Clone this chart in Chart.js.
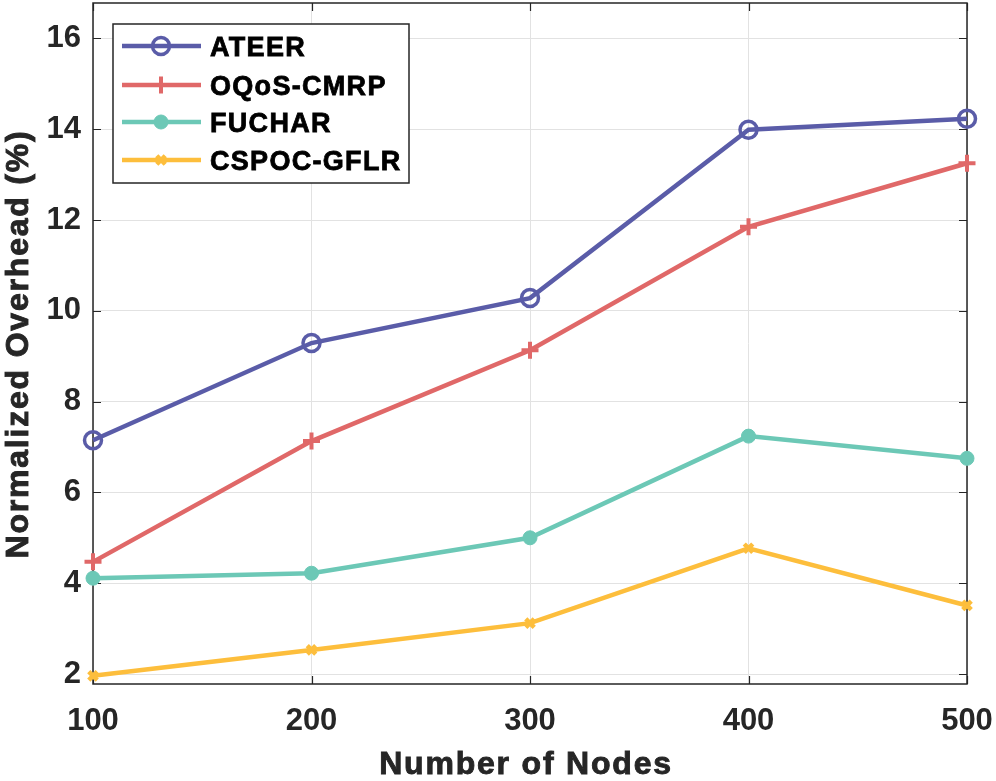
<!DOCTYPE html>
<html>
<head>
<meta charset="utf-8">
<script src="https://cdn.jsdelivr.net/npm/chart.js@4.4.1/dist/chart.umd.min.js"></script>
<style>
html,body{margin:0;padding:0;background:#fff;}
#wrap{width:996px;height:781px;}
</style>
</head>
<body>
<div id="wrap"><canvas id="c" width="996" height="781"></canvas></div>
<script>
const nodes = [100, 200, 300, 400, 500];
const ateer = [7.15, 9.29, 10.28, 13.99, 14.23];
const oqos = [4.47, 7.13, 9.13, 11.85, 13.25];
const fuchar = [4.11, 4.22, 5.00, 7.24, 6.75];
const cspoc = [1.96, 2.53, 3.12, 4.77, 3.51];
const xTicks = [100, 200, 300, 400, 500];
const yTicks = [2, 4, 6, 8, 10, 12, 14, 16];
const seriesNames = ['ATEER', 'OQoS-CMRP', 'FUCHAR', 'CSPOC-GFLR'];
const xTitle = 'Number of Nodes';
const yTitle = 'Normalized Overhead (%)';

const colors = ['#5a5ca8', '#e06868', '#6cc8b6', '#fdbe3c'];
const FONT = '"Liberation Sans", Arial, Helvetica, sans-serif';
const TXT = '#262626';

function pts(arr){ return nodes.map((n,i)=>({x:n, y:arr[i]})); }

const styles = [
  {pointStyle:'circle', pointRadius:8.5, pointBorderWidth:3.5, pointBackgroundColor:'rgba(0,0,0,0)'},
  {pointStyle:'cross', pointRadius:8.5, pointBorderWidth:4, pointBackgroundColor:colors[1]},
  {pointStyle:'circle', pointRadius:7, pointBorderWidth:1, pointBackgroundColor:colors[2]},
  {pointStyle:'crossRot', pointRadius:6, pointBorderWidth:4.5, pointBackgroundColor:colors[3]}
];

const datasets = [ateer, oqos, fuchar, cspoc].map((arr,i)=>Object.assign({
  label: seriesNames[i],
  data: pts(arr),
  borderColor: colors[i],
  pointBorderColor: colors[i],
  borderWidth: 4.5,
  tension: 0,
  clip: false,
  pointHoverRadius: 8
}, styles[i]));

function boldText(ctx, txt, x, y){
  ctx.fillText(txt, x, y);
  ctx.strokeText(txt, x, y);
}

const framePlugin = {
  id:'frame',
  beforeDatasetsDraw(chart){
    const {ctx, chartArea:a, scales} = chart;
    ctx.save();
    ctx.strokeStyle = TXT;
    ctx.lineWidth = 1.2;
    const L = 8;
    ctx.beginPath();
    yTicks.forEach(v=>{
      const y = Math.round(scales.y.getPixelForValue(v))+0.5;
      ctx.moveTo(a.left, y); ctx.lineTo(a.left+L, y);
      ctx.moveTo(a.right, y); ctx.lineTo(a.right-L, y);
    });
    xTicks.forEach(v=>{
      const x = Math.round(scales.x.getPixelForValue(v))+0.5;
      ctx.moveTo(x, a.bottom); ctx.lineTo(x, a.bottom-L);
      ctx.moveTo(x, a.top); ctx.lineTo(x, a.top+L);
    });
    ctx.stroke();
    ctx.lineWidth = 1.5;
    ctx.strokeRect(a.left, a.top, a.right-a.left, a.bottom-a.top);
    ctx.restore();
  },
  afterDraw(chart){
    const {ctx, chartArea:a} = chart;
    ctx.save();
    ctx.fillStyle = TXT;
    ctx.strokeStyle = TXT;
    ctx.lineWidth = 0.9;
    ctx.font = 'bold 32px ' + FONT;
    try { ctx.letterSpacing = '1.8px'; } catch(e){}
    ctx.textAlign = 'center';
    ctx.textBaseline = 'alphabetic';
    boldText(ctx, xTitle, 526, 774);
    ctx.save();
    ctx.translate(28, 344);
    ctx.rotate(-Math.PI/2);
    boldText(ctx, yTitle, 0, 0);
    ctx.restore();
    ctx.restore();

    // legend
    ctx.save();
    const bx=113, by=24, bw=296, bh=159;
    ctx.fillStyle = '#fff';
    ctx.fillRect(bx, by, bw, bh);
    ctx.strokeStyle = TXT;
    ctx.lineWidth = 1.5;
    ctx.strokeRect(bx, by, bw, bh);
    const rows = [46, 85, 122, 160];
    chart.data.datasets.forEach((ds,i)=>{
      const y = rows[i];
      ctx.strokeStyle = ds.borderColor;
      ctx.lineWidth = 4.5;
      ctx.beginPath(); ctx.moveTo(122, y); ctx.lineTo(201, y); ctx.stroke();
      const opts = {pointStyle: ds.pointStyle, radius: ds.pointRadius, rotation:0, borderWidth: ds.pointBorderWidth};
      ctx.strokeStyle = ds.pointBorderColor;
      ctx.fillStyle = ds.pointBackgroundColor;
      ctx.lineWidth = ds.pointBorderWidth;
      Chart.helpers.drawPoint(ctx, opts, 161, y);
      ctx.fillStyle = '#000';
      ctx.strokeStyle = '#000';
      ctx.lineWidth = 0.8;
      ctx.font = 'bold 27px ' + FONT;
      try { ctx.letterSpacing = '1.3px'; } catch(e){}
      ctx.textAlign = 'left';
      ctx.textBaseline = 'alphabetic';
      boldText(ctx, ds.label, 210, y + 10);
      try { ctx.letterSpacing = '0px'; } catch(e){}
    });
    ctx.restore();
  }
};

new Chart(document.getElementById('c'), {
  type: 'line',
  data: { datasets },
  options: {
    responsive: false,
    animation: false,
    devicePixelRatio: 1,
    layout: { autoPadding: false, padding: { left: 0, right: 29, top: 3, bottom: 0 } },
    plugins: { legend: { display: false }, tooltip: { enabled: false } },
    scales: {
      x: {
        type: 'linear', min: 100, max: 500,
        afterBuildTicks: s => { s.ticks = xTicks.map(v=>({value:v})); },
        afterFit: s => { s.height = 97; s.paddingLeft = 0; s.paddingRight = 0; },
        grid: { color: '#e2e2e2', lineWidth: 1, drawTicks: false },
        border: { display: false },
        ticks: { color: TXT, padding: 19, font: { family: FONT, size: 31, weight: 'bold' }, maxRotation: 0 }
      },
      y: {
        type: 'linear', min: 1.78, max: 16.78,
        afterBuildTicks: s => { s.ticks = yTicks.map(v=>({value:v})); },
        afterFit: s => { s.width = 93; s.paddingTop = 0; s.paddingBottom = 0; },
        grid: { color: '#e2e2e2', lineWidth: 1, drawTicks: false },
        border: { display: false },
        ticks: { color: TXT, padding: 12, font: { family: FONT, size: 31, weight: 'bold' } }
      }
    }
  },
  plugins: [framePlugin]
});
</script>
</body>
</html>
